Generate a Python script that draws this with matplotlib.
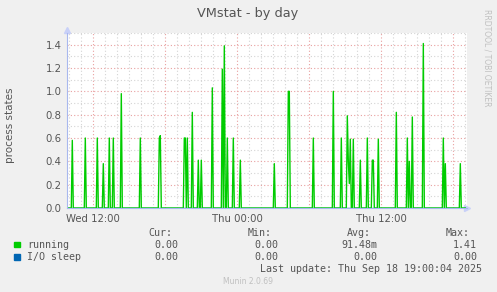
import matplotlib.pyplot as plt
import numpy as np

# spikes of the "running" series: hour since Wed 00:00, value
spike_hours = [10.25, 11.33, 12.33, 12.83, 13.33, 13.67, 14.33, 15.92, 17.5, 17.58,
               19.58, 19.67, 19.83, 20.25, 20.75, 21.0, 21.92, 22.75, 22.92, 23.17,
               23.67, 24.25, 27.08, 28.25, 28.33, 30.33, 32.0, 32.67, 33.17, 33.25,
               33.33, 33.42, 33.67, 34.25, 34.83, 35.25, 35.33, 35.75, 37.25, 38.17,
               38.33, 38.58, 39.5, 41.17, 41.33, 42.58]
spike_values = [0.58, 0.60, 0.60, 0.38, 0.60, 0.60, 0.98, 0.60, 0.60, 0.62,
                0.60, 0.60, 0.60, 0.82, 0.41, 0.41, 1.03, 1.19, 1.39, 0.60,
                0.60, 0.41, 0.38, 1.00, 1.00, 0.60, 1.00, 0.60, 0.79, 0.40,
                0.21, 0.59, 0.59, 0.41, 0.60, 0.41, 0.41, 0.59, 0.82, 0.60,
                0.40, 0.78, 1.41, 0.60, 0.38, 0.38]

t_start, t_end = 9.808, 43.14
tick_hours = [12, 24, 36]
tick_labels = ['Wed 12:00', 'Thu 00:00', 'Thu 12:00']

legend_names = ['running', 'I/O sleep']
legend_colors = ['#00cc00', '#0066b3']
cur_vals = ['0.00', '0.00']
min_vals = ['0.00', '0.00']
avg_vals = ['91.48m', '0.00']
max_vals = ['1.41', '0.00']

# 5 minute samples, zero except at the spikes
t = np.arange(9.8333, 43.01, 5 / 60)
running = np.zeros_like(t)
for h, v in zip(spike_hours, spike_values):
    running[np.argmin(np.abs(t - h))] = v
io_sleep = np.zeros_like(t)

W, H = 497, 292
fig = plt.figure(figsize=(W / 100, H / 100), dpi=100, facecolor='#f0f0f0')
ax = fig.add_axes([67 / W, 1 - 208 / H, 400 / W, 175 / H], facecolor='white')

ax.plot(t, io_sleep, color=legend_colors[1], lw=1.0, zorder=3)
ax.plot(t, running, color=legend_colors[0], lw=1.0, zorder=4)

ax.set_xlim(t_start, t_end)
ax.set_ylim(0, 1.5)
ax.set_xticks(np.arange(12, 43, 6))
ax.set_xticks(np.arange(10, 44, 1), minor=True)
ax.set_xticklabels(['Wed 12:00', '', 'Thu 00:00', '', 'Thu 12:00', ''])
ax.set_yticks(np.arange(0, 1.45, 0.2))
ax.set_yticks(np.arange(0, 1.55, 0.1), minor=True)
ax.set_yticklabels(['%.1f' % v for v in np.arange(0, 1.45, 0.2)])
ax.grid(which='minor', color='#d4d4d4', linestyle=(0, (1, 2)), lw=0.8)
ax.grid(which='major', color='#e9a0a0', linestyle=(0, (1, 2)), lw=0.8)
ax.set_axisbelow(True)
ax.tick_params(which='both', length=0, labelsize=7.3, labelcolor='#555555', pad=4)
for s in ['top', 'right']:
    ax.spines[s].set_visible(False)
for s in ['left', 'bottom']:
    ax.spines[s].set_color('#a8b8ee')
    ax.spines[s].set_zorder(5)
ax.plot([1.0], [0], marker='>', color='#c8d0f8', ms=5, transform=ax.transAxes, clip_on=False)
ax.plot([0], [1.02], marker='^', color='#c8d0f8', ms=5, transform=ax.transAxes, clip_on=False)

fig.text(248 / W, 1 - 13 / H, 'VMstat - by day', ha='center', va='center', fontsize=9.3, color='#555555')
fig.text(10 / W, 1 - 125 / H, 'process states', rotation=90, ha='center', va='center',
         fontsize=7.5, color='#555555')
fig.text(487 / W, 1 - 58 / H, 'RRDTOOL / TOBI OETIKER', rotation=270, ha='center', va='center',
         fontsize=5.5, color='#c0c0c0')

mono = dict(family='DejaVu Sans Mono', fontsize=7.2, color='#555555', va='center')
header_y = 1 - 233 / H
for x, lab in [(172, 'Cur:'), (272, 'Min:'), (371, 'Avg:'), (470, 'Max:')]:
    fig.text(x / W, header_y, lab, ha='right', **mono)
for i, name in enumerate(legend_names):
    y = 1 - (244.5 + 12.3 * i) / H
    fig.patches.append(plt.Rectangle((14 / W, y - 2.8 / H), 5.5 / W, 5.5 / H,
                                     color=legend_colors[i], transform=fig.transFigure))
    fig.text(27 / W, y, name, ha='left', **mono)
    fig.text(178 / W, y, cur_vals[i], ha='right', **mono)
    fig.text(278 / W, y, min_vals[i], ha='right', **mono)
    fig.text(377 / W, y, avg_vals[i], ha='right', **mono)
    fig.text(477 / W, y, max_vals[i], ha='right', **mono)
fig.text(482 / W, 1 - 269 / H, 'Last update: Thu Sep 18 19:00:04 2025', ha='right', **mono)
fig.text(248 / W, 1 - 281 / H, 'Munin 2.0.69', ha='center', va='center', fontsize=5.5, color='#c0c0c0')

fig.savefig('out.png', dpi=100, facecolor=fig.get_facecolor())
